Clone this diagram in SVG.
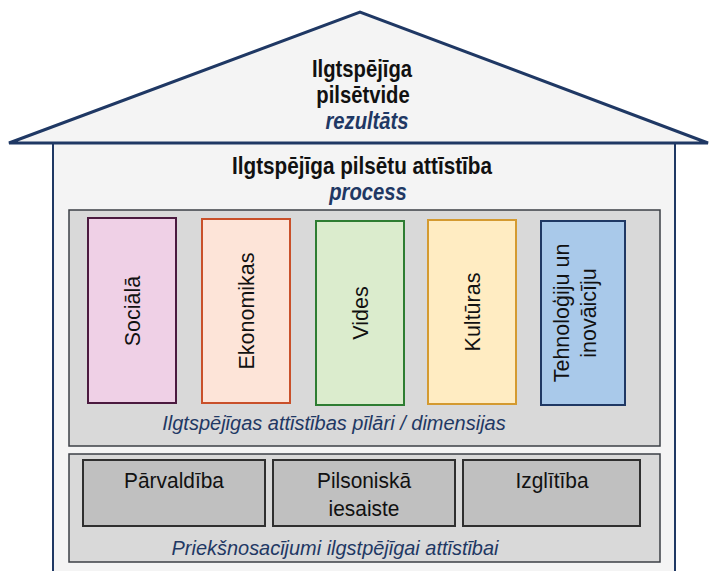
<svg xmlns="http://www.w3.org/2000/svg" width="711" height="571" viewBox="0 0 711 571">
<style>
.title{font-family:"Liberation Sans",Arial,sans-serif;font-weight:bold;font-size:23px;fill:#111;text-anchor:middle}
.sub{font-family:"Liberation Sans",Arial,sans-serif;font-weight:bold;font-style:italic;font-size:23px;fill:#1f3864;text-anchor:middle}
.pl{font-family:"Liberation Sans",Arial,sans-serif;font-size:21.5px;fill:#111;text-anchor:middle}
.cap{font-family:"Liberation Sans",Arial,sans-serif;font-style:italic;font-size:20px;fill:#1f3864;text-anchor:middle}
.cap2{font-family:"Liberation Sans",Arial,sans-serif;font-style:italic;font-size:21px;fill:#1f3864;text-anchor:middle}
.bx{font-family:"Liberation Sans",Arial,sans-serif;font-size:22px;fill:#111;text-anchor:middle}
.panel{fill:#d9d9d9;stroke:#3b3f45;stroke-width:1.5}
.box{fill:#c0c0c0;stroke:#2f2f2f;stroke-width:2}
</style>
<rect width="711" height="571" fill="#ffffff"/>
<g id="house">
<rect x="53" y="143" width="622" height="440" fill="#f4f4f4" stroke="#1f3864" stroke-width="2"/>
<polygon points="9,143 360,12 708,143" fill="#f4f4f4" stroke="#1f3864" stroke-width="3" stroke-linejoin="miter"/>
</g>
<g id="roof-text">
<text class="title" transform="translate(362,77) scale(0.88,1)">Ilgtspējīga</text>
<text class="title" transform="translate(363,103) scale(0.88,1)">pilsētvide</text>
<text class="sub" transform="translate(367,129) scale(0.88,1)">rezultāts</text>
</g>
<g id="process-text">
<text class="title" transform="translate(362,174) scale(0.9,1)">Ilgtspējīga pilsētu attīstība</text>
<text class="sub" transform="translate(368,200) scale(0.88,1)">process</text>
</g>
<g id="pillars-panel">
<rect class="panel" x="69" y="210" width="591" height="236"/>
<text class="cap" x="334" y="430">Ilgtspējīgas attīstības pīlāri / dimensijas</text>
</g>
<g id="p-sociala">
<rect x="88" y="218" width="88" height="185" fill="#efd0e6" stroke="#4b1a3f" stroke-width="2"/>
<text class="pl" transform="translate(140,311) rotate(-90)">Sociālā</text>
</g>
<g id="p-ekonomikas">
<rect x="202" y="219" width="88" height="184" fill="#fde4d8" stroke="#c9502a" stroke-width="2"/>
<text class="pl" transform="translate(254,311) rotate(-90)">Ekonomikas</text>
</g>
<g id="p-vides">
<rect x="316" y="221" width="88" height="184" fill="#dbeccd" stroke="#2e7d32" stroke-width="2"/>
<text class="pl" transform="translate(368,313) rotate(-90)">Vides</text>
</g>
<g id="p-kulturas">
<rect x="428" y="220" width="88" height="184" fill="#ffecc2" stroke="#d49a30" stroke-width="2"/>
<text class="pl" transform="translate(480,312) rotate(-90)">Kultūras</text>
</g>
<g id="p-tehnologiju">
<rect x="541" y="221" width="84" height="184" fill="#a9c9ea" stroke="#1f3864" stroke-width="2"/>
<text class="pl" transform="translate(569,313) rotate(-90)">Tehnoloģiju un</text>
<text class="pl" transform="translate(596,313) rotate(-90)">inovāicīju</text>
</g>
<g id="prereq-panel">
<rect class="panel" x="69" y="454" width="591" height="108"/>
<text class="cap2" transform="translate(335,555) scale(0.95,1)">Priekšnosacījumi ilgstpējīgai attīstībai</text>
</g>
<g id="b-parvaldiba">
<rect class="box" x="83" y="460" width="182" height="66"/>
<text class="bx" transform="translate(174,488) scale(0.95,1)">Pārvaldība</text>
</g>
<g id="b-pilsoniska">
<rect class="box" x="273" y="460" width="182" height="66"/>
<text class="bx" transform="translate(364,488) scale(0.95,1)">Pilsoniskā</text>
<text class="bx" transform="translate(364,516) scale(0.95,1)">iesaiste</text>
</g>
<g id="b-izglitiba">
<rect class="box" x="463" y="460" width="177" height="66"/>
<text class="bx" transform="translate(552,488) scale(0.95,1)">Izglītība</text>
</g>
<g id="connectors"></g>
</svg>
